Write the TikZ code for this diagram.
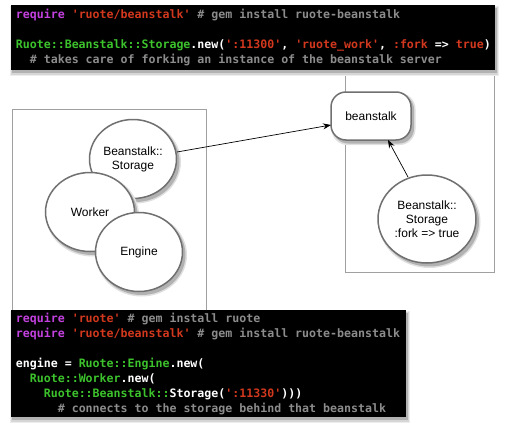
\documentclass[tikz,border=0pt]{standalone}
\usepackage{fontspec}
\setmainfont{Liberation Sans}
\newfontfamily\codefont{DejaVu Sans Mono}
\usetikzlibrary{shapes.geometric,arrows.meta}
\definecolor{kw}{HTML}{C341DF}
\definecolor{str}{HTML}{D2381E}
\definecolor{cls}{HTML}{3CC22C}
\definecolor{cmt}{HTML}{8C8C8C}
\definecolor{frame}{HTML}{A0A0A0}
\definecolor{ell}{HTML}{707070}
\tikzset{
  codebox/.style={draw=none, fill=black, inner sep=0pt},
  codeline/.style={anchor=base west, inner sep=0pt, text=white,
    font=\codefont\bfseries\fontsize{11.6}{15}\selectfont},
  shadowA/.style={fill=black!12},
  shadowB/.style={fill=black!30},
  bubble/.style={ellipse, draw=ell, line width=1.5pt, fill=white, inner sep=0pt,
    align=center, font=\fontsize{12}{14}\selectfont},
  roundbox/.style={rectangle, rounded corners=15pt, draw=ell, line width=1.5pt, fill=white,
    font=\fontsize{12}{14}\selectfont},
  frm/.style={draw=frame, line width=0.8pt},
  conn/.style={draw=black, line width=0.7pt, -{Stealth[length=8pt,width=6pt]}}
}
\newcommand{\K}[1]{\textcolor{kw}{#1}}
\newcommand{\Sx}[1]{\textcolor{str}{#1}}
\newcommand{\G}[1]{\textcolor{cls}{#1}}
\newcommand{\Cm}[1]{\textcolor{cmt}{#1}}
% \ellshadow{cx}{cy}{rx}{ry}
\newcommand{\ellshadow}[4]{%
  \fill[shadowA] (#1+2.5,#2+3) ellipse [x radius=#3+2, y radius=#4+2];
  \fill[shadowB] (#1+2.5,#2+3) ellipse [x radius=#3+0.5, y radius=#4+0.5];
}
\begin{document}
\begin{tikzpicture}[x=1pt,y=-1pt]
\useasboundingbox (0,0) rectangle (505,431);
\fill[white] (0,0) rectangle (505,431);
% frames
\draw[frm] (345,60) rectangle (494,272);
\draw[frm] (12,109) rectangle (206,320);
% right side
\fill[shadowA, rounded corners=16pt] (331+0.5,92+1) rectangle (411+4.5,140+5);
\fill[shadowB, rounded corners=15pt] (331+2,92+2.5) rectangle (411+3,140+3.5);
\node[roundbox, minimum width=80pt, minimum height=48pt] (bs) at (371,116) {beanstalk};
\ellshadow{427}{219}{49}{44}
\node[bubble, minimum width=98pt, minimum height=88pt] (fork) at (427,219)
  {Beanstalk::\\Storage\\:fork => true};
% left bubbles
\ellshadow{133}{159}{43.5}{39.5}
\node[bubble, minimum width=87pt, minimum height=79pt] (stor) at (133,159) {Beanstalk::\\Storage};
\ellshadow{90}{212}{44.5}{39.5}
\node[bubble, minimum width=89pt, minimum height=79pt] (work) at (90,212) {Worker};
\ellshadow{139}{252}{43.5}{39.5}
\node[bubble, minimum width=87pt, minimum height=79pt] (eng) at (139,252) {Engine};
% connectors
\coordinate (s1) at (177,152);
\coordinate (s2) at (331,125);
\coordinate (f1) at (408,177);
\coordinate (f2) at (388,140);
\draw[conn] (s1) -- (s2);
\draw[conn] (f1) -- (f2);
% top code box with soft shadow
\fill[black!7] (10,6) rectangle (499,76);
\fill[black!16] (11,7) rectangle (498,74.5);
\fill[black!30] (12,8) rectangle (497,73);
\node[codebox, minimum width=484pt, minimum height=65pt] (topcode) at (253,37.5) {};
\node[codeline] (t1) at (15.7,18.5) {\K{require} \Sx{'ruote/beanstalk'} \Cm{\# gem install ruote-beanstalk}};
\node[codeline] (t2) at (15.7,48.5) {\G{Ruote::Beanstalk::Storage}.new(\Sx{':11300'}, \Sx{'ruote\_work'}, \Sx{:fork} => \Sx{true})};
\node[codeline] (t3) at (15.7,63.5) {\ \ \Cm{\# takes care of forking an instance of the beanstalk server}};
% bottom code box with soft shadow
\fill[black!7] (10,311) rectangle (410,423);
\fill[black!16] (11,312) rectangle (409,421.5);
\fill[black!30] (12,313) rectangle (408,420);
\node[codebox, minimum width=395pt, minimum height=107pt] (botcode) at (208.5,363.5) {};
\node[codeline] (b1) at (15.7,322) {\K{require} \Sx{'ruote'} \Cm{\# gem install ruote}};
\node[codeline] (b2) at (15.7,337) {\K{require} \Sx{'ruote/beanstalk'} \Cm{\# gem install ruote-beanstalk}};
\node[codeline] (b3) at (15.7,367) {engine = \G{Ruote::Engine}.new(};
\node[codeline] (b4) at (15.7,382) {\ \ \G{Ruote::Worker}.new(};
\node[codeline] (b5) at (15.7,397) {\ \ \ \ \G{Ruote::Beanstalk::}Storage(\Sx{':11330'})))};
\node[codeline] (b6) at (15.7,412) {\ \ \ \ \ \ \Cm{\# connects to the storage behind that beanstalk}};
\end{tikzpicture}
\end{document}
